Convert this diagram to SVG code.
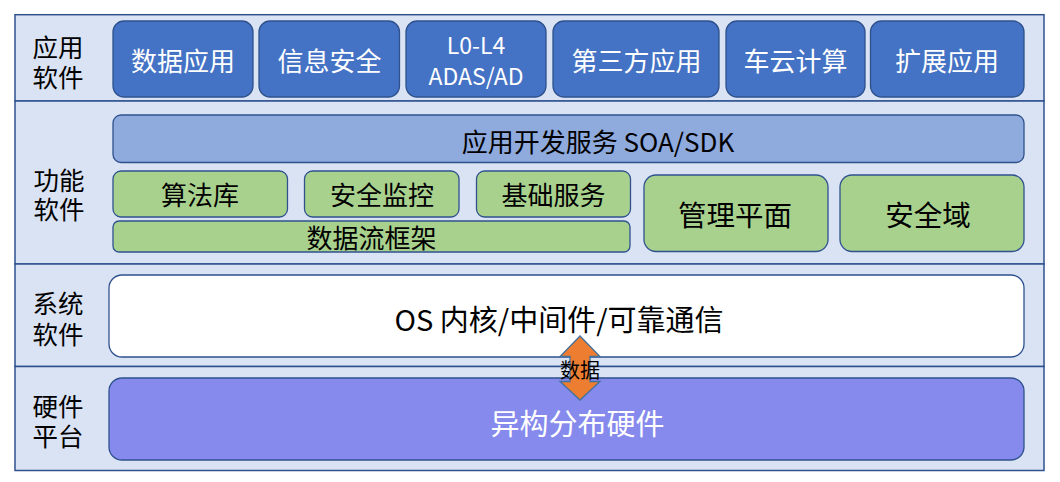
<svg xmlns="http://www.w3.org/2000/svg" width="1060" height="482" viewBox="0 0 1060 482">
<style>
text{font-family:"Noto Sans CJK SC","Noto Sans",sans-serif;dominant-baseline:central;text-anchor:middle}
.layer{fill:#DAE3F3;stroke:#2F528F;stroke-width:1.5}
.app{fill:#4472C4;stroke:#2F528F;stroke-width:1.3}
.soa{fill:#8FAADC;stroke:#2F528F;stroke-width:1.3}
.grn{fill:#A9D18E;stroke:#2F528F;stroke-width:1.3}
.sys{fill:#FFFFFF;stroke:#2F528F;stroke-width:1.3}
.hw{fill:#868AEC;stroke:#2F528F;stroke-width:1.3}
.lbl{font-size:25.5px;fill:#000}
.wt{fill:#FFFFFF;font-size:26px}
.bk{fill:#000;font-size:26px}
</style>
<rect x="0" y="0" width="1060" height="482" fill="#FFFFFF"/>
<g id="layers">
<rect class="layer" x="15" y="14.7" width="1029" height="86.3"/>
<rect class="layer" x="15" y="101" width="1029" height="163"/>
<rect class="layer" x="15" y="264" width="1029" height="102.5"/>
<rect class="layer" x="15" y="366.5" width="1029" height="104"/>
</g>
<g id="labels">
<text class="lbl" x="58" y="45"><tspan x="58" y="45">应用</tspan><tspan x="58" y="75">软件</tspan></text>
<text class="lbl" x="59" y="177.5"><tspan x="59" y="177.5">功能</tspan><tspan x="59" y="207">软件</tspan></text>
<text class="lbl" x="58" y="301"><tspan x="58" y="301">系统</tspan><tspan x="58" y="332">软件</tspan></text>
<text class="lbl" x="58" y="404"><tspan x="58" y="404">硬件</tspan><tspan x="58" y="434">平台</tspan></text>
</g>
<g id="app-data"><rect class="app" x="113" y="21" width="140" height="76" rx="11"/><text class="wt" x="183" y="59.5">数据应用</text></g>
<g id="app-infosec"><rect class="app" x="259" y="21" width="140.5" height="76" rx="11"/><text class="wt" x="329.5" y="59.5">信息安全</text></g>
<g id="app-adas"><rect class="app" x="406" y="21" width="140" height="76" rx="11"/><text class="wt" x="476" y="43.5" style="font-size:23px"><tspan x="476" y="43.5">L0-L4</tspan><tspan x="476" y="75">ADAS/AD</tspan></text></g>
<g id="app-third"><rect class="app" x="553" y="21" width="166" height="76" rx="11"/><text class="wt" x="636.5" y="59.5">第三方应用</text></g>
<g id="app-cloud"><rect class="app" x="726" y="21" width="139" height="76" rx="11"/><text class="wt" x="795.5" y="59.5">车云计算</text></g>
<g id="app-ext"><rect class="app" x="870.5" y="21" width="153.5" height="76" rx="11"/><text class="wt" x="947" y="59.5">扩展应用</text></g>
<g id="soa"><rect class="soa" x="113" y="115" width="911" height="47.5" rx="8"/><text class="bk" x="598" y="140">应用开发服务 SOA/SDK</text></g>
<g id="algo"><rect class="grn" x="113" y="171" width="174.5" height="46" rx="8"/><text class="bk" x="200" y="193.5">算法库</text></g>
<g id="safemon"><rect class="grn" x="304.5" y="171" width="154.5" height="46" rx="8"/><text class="bk" x="382" y="193.5">安全监控</text></g>
<g id="basesvc"><rect class="grn" x="476.5" y="171" width="154" height="46" rx="8"/><text class="bk" x="553.5" y="193.5">基础服务</text></g>
<g id="dataflow"><rect class="grn" x="113" y="221" width="517" height="31" rx="6"/><text class="bk" x="371.5" y="236.5">数据流框架</text></g>
<g id="mgmt"><rect class="grn" x="644" y="175" width="184" height="76.5" rx="12"/><text class="bk" x="735" y="213.5" style="font-size:28.5px">管理平面</text></g>
<g id="safedomain"><rect class="grn" x="840" y="175" width="184" height="76.5" rx="12"/><text class="bk" x="928" y="213.5" style="font-size:28.5px">安全域</text></g>
<g id="os"><rect class="sys" x="109" y="275" width="915" height="82" rx="13"/><text class="bk" x="559" y="318" style="font-size:29px">OS 内核/中间件/可靠通信</text></g>
<g id="hw"><rect class="hw" x="109" y="378" width="915" height="82" rx="13"/><text class="wt" x="577.5" y="422" style="font-size:29px">异构分布硬件</text></g>
<g id="connectors">
<polygon points="580,336 600,356.5 590,356.5 590,381.5 600,381.5 580,400 560,381.5 570,381.5 570,356.5 560,356.5" fill="#ED7D31" stroke="#41719C" stroke-width="1.3" stroke-linejoin="miter"/>
<text x="580" y="369" style="font-size:20px;fill:#000">数据</text>
</g>
</svg>
